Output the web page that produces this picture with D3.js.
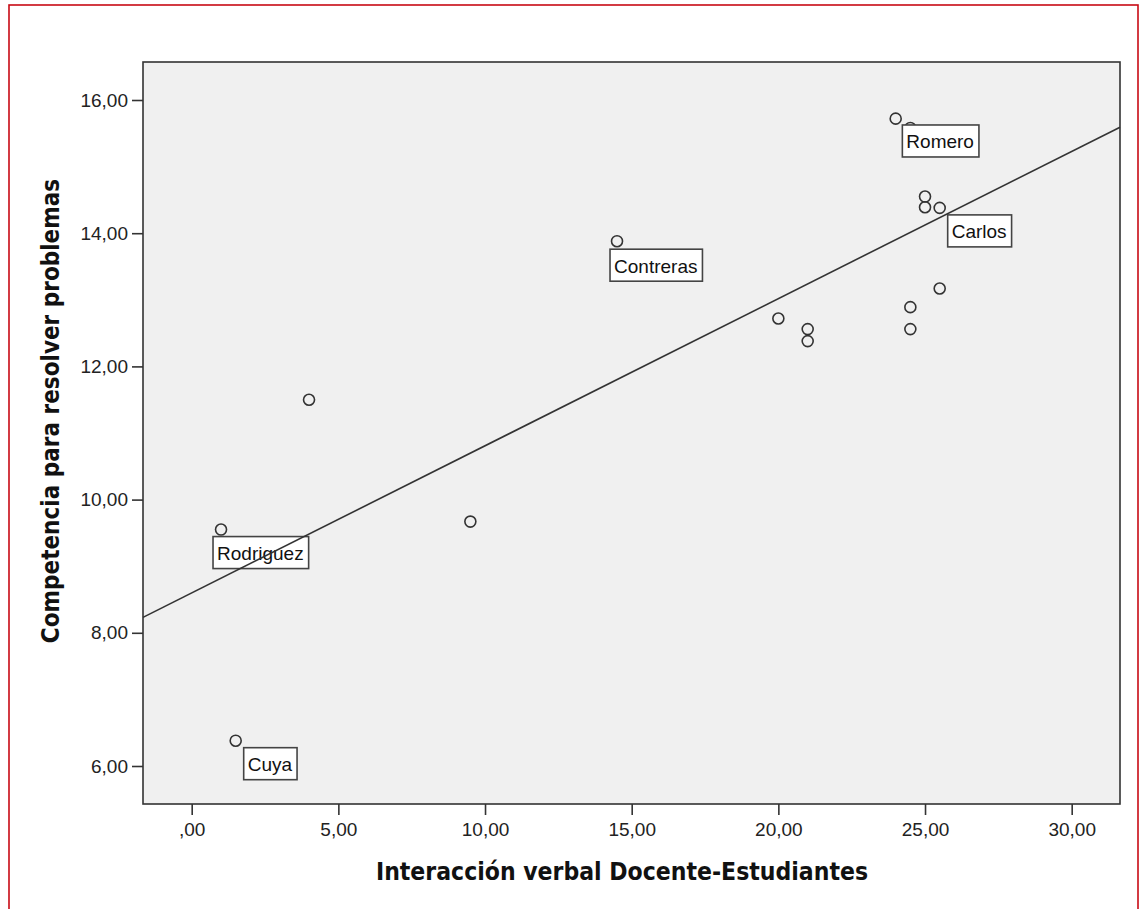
<!DOCTYPE html>
<meta charset="utf-8">
<style>
  body { margin: 0; background: #fff; }
  text { font-family: "Liberation Sans", Arial, sans-serif; }
</style>
<body>
<script src="https://d3js.org/d3.v7.min.js"></script>
<script>
  // valores
  const interaccion = [24, 24.5, 25, 25, 25.5, 14.5, 20, 21, 21, 24.5, 24.5, 25.5, 4, 9.5, 1, 1.5];
  const competencia = [15.72, 15.58, 14.55, 14.39, 14.38, 13.88, 12.72, 12.56, 12.38, 12.89, 12.56, 13.17, 11.5, 9.67, 9.55, 6.38];
  const nombres = ["", "Romero", "", "", "Carlos", "Contreras", "", "", "", "", "", "", "", "", "Rodriguez", "Cuya"];
  const xTicks = [0, 5, 10, 15, 20, 25, 30];
  const yTicks = [6, 8, 10, 12, 14, 16];
  const xTitle = "Interacción verbal Docente-Estudiantes";
  const yTitle = "Competencia para resolver problemas";

  // donde va cada etiqueta respecto a su punto
  const labelOffset = {Romero: [-8, -3], Carlos: [8, 7], Contreras: [-7, 8], Rodriguez: [-8, 7], Cuya: [8, 7]};

  const W = 1144, H = 909;
  const svg = d3.select("body").append("svg")
    .attr("width", W).attr("height", H);

  // marco rojo
  svg.append("rect")
    .attr("x", 9).attr("y", 5).attr("width", 1129).attr("height", 940)
    .attr("fill", "none").attr("stroke", "#c80a14").attr("stroke-width", 1.6);

  const x = d3.scaleLinear().domain([-1.66, 31.647]).range([143, 1120]);
  const y = d3.scaleLinear().domain([5.4294, 16.5706]).range([804, 62]);

  const loc = d3.formatLocale({decimal: ",", thousands: ".", grouping: [3], currency: ["", ""]});
  const fmt = v => loc.format(".2f")(v).replace(/^0,/, ",");

  svg.append("rect")
    .attr("x", x.range()[0]).attr("y", y.range()[1])
    .attr("width", x.range()[1] - x.range()[0])
    .attr("height", y.range()[0] - y.range()[1])
    .attr("fill", "#f0f0f0");

  const pts = interaccion.map((v, i) => ({x: v, y: competencia[i], name: nombres[i]}));

  svg.append("g").selectAll("circle")
    .data(pts)
    .join("circle")
    .attr("cx", d => x(d.x))
    .attr("cy", d => y(d.y))
    .attr("r", 5.5)
    .attr("fill", "none")
    .attr("stroke", "#333")
    .attr("stroke-width", 1.6);

  // etiquetas
  const lab = svg.append("g").selectAll("g")
    .data(pts.filter(d => d.name))
    .join("g")
    .attr("transform", d => `translate(${x(d.x) + labelOffset[d.name][0]},${y(d.y) + labelOffset[d.name][1]})`);
  lab.append("rect").attr("height", 32).attr("fill", "#fff")
    .attr("stroke", "#444").attr("stroke-width", 1.6);
  lab.append("text").attr("x", 4).attr("y", 23.5)
    .style("font-size", "19px").attr("fill", "#111")
    .text(d => d.name);
  lab.each(function() {
    const g = d3.select(this);
    const w = g.select("text").node().getComputedTextLength();
    g.select("rect").attr("width", w + 9);
  });

  // recta de regresion (minimos cuadrados)
  const mx = d3.mean(interaccion), my = d3.mean(competencia);
  const b = d3.sum(interaccion, (v, i) => (v - mx) * (competencia[i] - my)) / d3.sum(interaccion, v => (v - mx) ** 2);
  const a = my - b * mx;
  const xd = x.domain();
  svg.append("line")
    .attr("x1", x(xd[0])).attr("y1", y(a + b * xd[0]))
    .attr("x2", x(xd[1])).attr("y2", y(a + b * xd[1]))
    .attr("stroke", "#333").attr("stroke-width", 1.6);

  svg.append("rect")
    .attr("x", x.range()[0]).attr("y", y.range()[1])
    .attr("width", x.range()[1] - x.range()[0])
    .attr("height", y.range()[0] - y.range()[1])
    .attr("fill", "none").attr("stroke", "#333").attr("stroke-width", 1.6);

  const gx = svg.append("g").attr("transform", `translate(0,${y.range()[0]})`)
    .call(d3.axisBottom(x).tickValues(xTicks).tickFormat(fmt).tickSize(11).tickSizeOuter(0).tickPadding(8));
  const gy = svg.append("g").attr("transform", `translate(${x.range()[0]},0)`)
    .call(d3.axisLeft(y).tickValues(yTicks).tickFormat(fmt).tickSize(11).tickSizeOuter(0).tickPadding(4));
  [gx, gy].forEach(g => {
    g.select(".domain").remove();
    g.selectAll(".tick line").attr("stroke", "#333").attr("stroke-width", 1.6);
    g.selectAll(".tick text").attr("fill", "#222")
      .style("font-family", "'Liberation Sans', Arial, sans-serif").style("font-size", "19px");
  });

  svg.append("text")
    .attr("x", 622).attr("y", 880)
    .attr("text-anchor", "middle")
    .style("font-family", "'DejaVu Sans Condensed', 'DejaVu Sans', sans-serif")
    .style("font-weight", "bold").style("font-size", "24.5px")
    .attr("fill", "#111")
    .text(xTitle);

  svg.append("text")
    .attr("transform", "translate(59,411) rotate(-90)")
    .attr("text-anchor", "middle")
    .style("font-family", "'DejaVu Sans Condensed', 'DejaVu Sans', sans-serif")
    .style("font-weight", "bold").style("font-size", "24px")
    .attr("fill", "#111")
    .text(yTitle);
</script>
</body>
